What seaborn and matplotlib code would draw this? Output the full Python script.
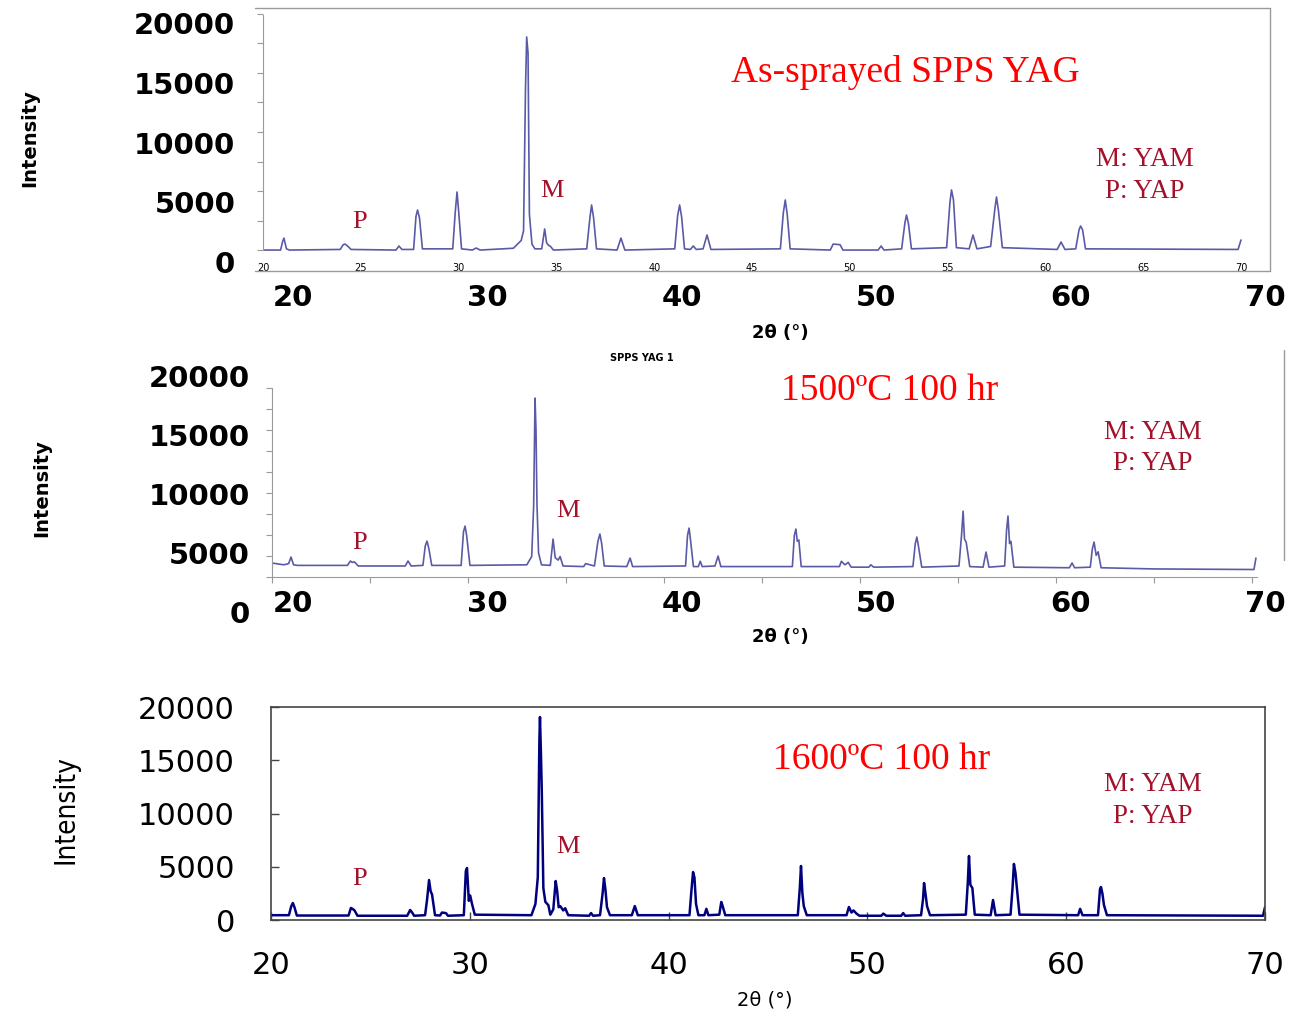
import numpy as np
import matplotlib.pyplot as plt
import seaborn as sns
from matplotlib.lines import Line2D

# ---- data (2theta in deg, intensity in counts) ----
sprayed_2theta = [20.0, 20.9, 21.0, 21.07, 21.2, 21.35,
                  23.95, 24.1, 24.2, 24.35, 24.5,
                  26.8, 26.95, 27.1,
                  27.7, 27.82, 27.9, 28.0, 28.15,
                  29.7, 29.83, 29.92, 30.0, 30.15,
                  30.7, 30.9, 31.1,
                  32.8, 33.2, 33.32, 33.42, 33.48, 33.55, 33.62, 33.75, 33.9,
                  34.25, 34.4, 34.5, 34.6, 34.7, 34.85,
                  36.55, 36.72, 36.8, 36.9, 37.05,
                  38.1, 38.3, 38.5,
                  41.05, 41.2, 41.3, 41.4, 41.55,
                  41.85, 42.0, 42.15, 42.5, 42.7, 42.9,
                  46.45, 46.6, 46.7, 46.8, 46.95,
                  49.0, 49.15, 49.5, 49.65,
                  51.45, 51.6, 51.75,
                  52.65, 52.82, 52.9, 53.0, 53.15,
                  54.95, 55.12, 55.2, 55.3, 55.45,
                  56.1, 56.3, 56.5,
                  57.2, 57.42, 57.5, 57.6, 57.8,
                  60.6, 60.8, 61.0,
                  61.55, 61.72, 61.8, 61.9, 62.05,
                  69.85, 70.0]
sprayed_intensity = [1000, 1000, 1700, 2000, 1100, 1000,
                     1050, 1450, 1500, 1300, 1050,
                     1000, 1340, 1050,
                     1050, 3800, 4350, 3700, 1100,
                     1100, 4200, 5860, 4300, 1100,
                     1000, 1170, 1000,
                     1150, 1800, 2600, 14500, 18830, 17500, 4000, 1500, 1100,
                     1100, 2760, 1600, 1400, 1300, 1000,
                     1100, 3800, 4770, 3700, 1100,
                     1000, 2000, 1000,
                     1100, 3900, 4770, 3800, 1100,
                     1050, 1340, 1050, 1100, 2260, 1050,
                     1100, 4100, 5190, 4000, 1100,
                     1000, 1500, 1450, 1000,
                     1000, 1340, 1000,
                     1100, 3300, 3930, 3200, 1100,
                     1200, 5000, 6030, 5200, 1200,
                     1100, 2260, 1100,
                     1300, 4500, 5440, 4300, 1200,
                     1050, 1670, 1050,
                     1100, 2700, 3010, 2700, 1100,
                     1050, 1840]

hot1500_2theta = [20.0, 20.6, 20.85, 20.97, 21.1, 21.3,
                  23.85, 24.0, 24.1, 24.2, 24.4,
                  26.8, 26.94, 27.1,
                  27.7, 27.82, 27.91, 28.0, 28.15,
                  29.65, 29.77, 29.85, 29.93, 30.1,
                  33.0, 33.25, 33.35, 33.42, 33.47, 33.52, 33.6, 33.75,
                  34.2, 34.34, 34.45, 34.6, 34.7, 34.85,
                  35.9, 36.0, 36.45, 36.63, 36.73, 36.82, 36.95,
                  38.1, 38.27, 38.4,
                  41.1, 41.2, 41.28, 41.36, 41.5,
                  41.75, 41.85, 41.95, 42.6, 42.76, 42.9,
                  46.55, 46.65, 46.73, 46.8, 46.88, 47.0,
                  48.95, 49.05, 49.23, 49.4, 49.55,
                  50.45, 50.55, 50.7,
                  52.7, 52.82, 52.9, 52.98, 53.15,
                  55.05, 55.18, 55.26, 55.33, 55.42, 55.6,
                  56.28, 56.43, 56.58,
                  57.38, 57.48, 57.55, 57.63, 57.7, 57.85,
                  60.68, 60.82, 60.95,
                  61.75, 61.85, 61.94, 62.05, 62.15, 62.3,
                  65.0, 70.1, 70.2]
hot1500_intensity = [4150, 4000, 4100, 4660, 4000, 3950,
                     3950, 4320, 4200, 4250, 3900,
                     3900, 4320, 3900,
                     3950, 5600, 6010, 5400, 3950,
                     3950, 6800, 7280, 6500, 3950,
                     4000, 4700, 9000, 18130, 15400, 9060, 5000, 4000,
                     3950, 6180, 4600, 4400, 4700, 3900,
                     3850, 4100, 3900, 6000, 6610, 5800, 3900,
                     3850, 4570, 3850,
                     3900, 6500, 7110, 6000, 3850,
                     3850, 4300, 3850, 3900, 4740, 3850,
                     3850, 6500, 7030, 6000, 6100, 3850,
                     3850, 4300, 4000, 4200, 3800,
                     3800, 4000, 3800,
                     3850, 5800, 6350, 5600, 3800,
                     3900, 6500, 8550, 6200, 5900, 3850,
                     3800, 5080, 3800,
                     3900, 7000, 8130, 5800, 6000, 3800,
                     3750, 4150, 3750,
                     3800, 5300, 5930, 4800, 5100, 3750,
                     3650, 3600, 4570]

hot1600_2theta = [20.0, 20.9, 21.02, 21.1, 21.18, 21.3,
                  23.9, 24.02, 24.1, 24.2, 24.35,
                  26.85, 27.0, 27.1, 27.2,
                  27.75, 27.85, 27.95, 28.03, 28.1, 28.25,
                  28.5, 28.6, 28.8, 28.9,
                  29.7, 29.8, 29.86, 29.95, 30.02, 30.1, 30.25,
                  33.1, 33.3, 33.42, 33.5, 33.53, 33.58, 33.62, 33.7, 33.8, 33.95, 34.05,
                  34.2, 34.32, 34.39, 34.47, 34.55, 34.7, 34.8, 34.95,
                  36.0, 36.1, 36.2,
                  36.55, 36.68, 36.75, 36.82, 36.9, 37.05,
                  38.15, 38.3, 38.45,
                  41.05, 41.15, 41.23, 41.3, 41.38, 41.5,
                  41.8, 41.9, 42.0,
                  42.55, 42.65, 42.72, 42.85,
                  46.5, 46.6, 46.66, 46.73, 46.8, 46.95,
                  48.95, 49.07, 49.2, 49.3, 49.45, 49.6,
                  50.7, 50.8, 50.95,
                  51.7, 51.8, 51.9,
                  52.7, 52.8, 52.85, 52.92, 53.0, 53.15,
                  54.95, 55.05, 55.11, 55.18, 55.28, 55.4,
                  56.2, 56.32, 56.45,
                  57.2, 57.3, 57.37, 57.45, 57.52, 57.65,
                  60.6, 60.7, 60.82,
                  61.6, 61.7, 61.75, 61.82, 61.9, 62.05,
                  69.9, 70.0]
hot1600_intensity = [450, 450, 1300, 1600, 1200, 420,
                     420, 1130, 1050, 900, 400,
                     400, 940, 700, 400,
                     450, 1900, 3750, 2700, 2400, 450,
                     420, 700, 650, 400,
                     450, 4600, 4880, 1800, 2300, 1600, 500,
                     450, 1500, 4000, 16900, 19060, 15500, 12200, 3000, 1700, 1400, 500,
                     1000, 3660, 2800, 1200, 1300, 900, 1100, 450,
                     400, 650, 400,
                     450, 2500, 3940, 2900, 1200, 450,
                     450, 1310, 450,
                     450, 2800, 4500, 4000, 1500, 450,
                     450, 1050, 450,
                     500, 1690, 1300, 450,
                     450, 3000, 5070, 2500, 1300, 450,
                     450, 1220, 700, 900, 600, 400,
                     400, 600, 400,
                     400, 650, 400,
                     450, 2000, 3470, 2500, 1300, 450,
                     500, 3500, 6010, 3300, 3000, 500,
                     450, 1880, 450,
                     500, 3000, 5260, 4400, 3000, 500,
                     450, 1050, 450,
                     450, 2900, 3100, 2500, 1400, 450,
                     400, 1200]

panel_titles = ["As-sprayed SPPS YAG", "1500ºC 100 hr", "1600ºC 100 hr"]
y_ticks = [0, 5000, 10000, 15000, 20000]
big_x_ticks = [20, 30, 40, 50, 60, 70]

sns.set_style("white")
plt.rcParams["font.family"] = ["DejaVu Sans"]
plt.rcParams["text.color"] = "black"
plt.rcParams["axes.labelcolor"] = "black"
plt.rcParams["xtick.color"] = "black"
plt.rcParams["ytick.color"] = "black"

W, H = 1291, 1013
fig = plt.figure(figsize=(W / 100, H / 100), dpi=100)


def px_axes(left, right, top, bottom):
    return fig.add_axes([left / W, 1 - bottom / H, (right - left) / W, (bottom - top) / H])


def fx(x):
    return x / W


def fy(y):
    return 1 - y / H


def label_scale(data_px0, data_ppd, lab_px0, lab_ppd):
    # the big tick labels of the pasted panels sit on a slightly shifted scale
    fwd = lambda x: 20 + ((np.asarray(x) - 20) * data_ppd + data_px0 - lab_px0) / lab_ppd
    inv = lambda o: 20 + ((np.asarray(o) - 20) * lab_ppd + lab_px0 - data_px0) / data_ppd
    return fwd, inv


trace_col = "#5a5aa6"
red_dark = "#a3112b"
serif = ["Liberation Serif", "DejaVu Serif"]
frame_col = "#9a9a9a"

# ================= panel 1 : as-sprayed =================
ppv1 = 239 / 20000  # pixels per count
ppd1 = 978 / 50     # pixels per degree
ax1 = px_axes(263, 1272, 262 - 20800 * ppv1, 262)
sns.lineplot(x=sprayed_2theta, y=sprayed_intensity, ax=ax1, color=trace_col,
             lw=1.2, sort=False, estimator=None)
ax1.set_xlim(20, 20 + (1272 - 263) / ppd1)
ax1.set_ylim(0, 20800)
ax1.set_yticks(y_ticks)
ax1.set_yticks(np.arange(1000, 20800, 2470), minor=True)
ax1.tick_params(axis="y", which="major", length=0, pad=20, labelsize=21)
ax1.tick_params(axis="y", which="minor", left=True, length=4, width=0.8, color=frame_col)
for lab in ax1.get_yticklabels():
    lab.set_fontweight("bold")
ax1.set_xticks(range(20, 71, 5))
ax1.tick_params(axis="x", length=0, pad=1, labelsize=7)
for s in ["top", "right", "bottom"]:
    ax1.spines[s].set_visible(False)
ax1.spines["left"].set_color(frame_col)
ax1.spines["left"].set_bounds(1000, 20700)
f1, g1 = label_scale(263, ppd1, 293, 972 / 50)
sec1 = ax1.secondary_xaxis(-0.0885, functions=(f1, g1))
sec1.set_xticks(big_x_ticks)
sec1.tick_params(length=0, pad=0, labelsize=21)
for lab in sec1.get_xticklabels():
    lab.set_fontweight("bold")
for s in sec1.spines.values():
    s.set_visible(False)
ax1.set_xlabel("2θ (°)", fontsize=13, fontweight="bold")
ax1.xaxis.set_label_coords((780 - 263) / (1272 - 263), (262 - 333) / (20800 * ppv1))
ax1.xaxis.label.set_va("center")
ax1.set_ylabel("Intensity", fontsize=14, fontweight="bold")
ax1.yaxis.set_label_coords((30 - 263) / (1272 - 263), 0.5)
ax1.yaxis.label.set_va("center")
for xs, ys in [([255, 1270], [8, 8]), ([1270, 1270], [8, 271]), ([255, 1270], [271, 271])]:
    fig.add_artist(Line2D([fx(v) for v in xs], [fy(v) for v in ys], color=frame_col, lw=1))

# ================= panel 2 : 1500 C =================
ppd2 = 19.6
ax2 = px_axes(272, 1280, 376, 612)
sns.lineplot(x=hot1500_2theta, y=hot1500_intensity, ax=ax2, color=trace_col,
             lw=1.2, sort=False, estimator=None)
ax2.set_xlim(20, 20 + (1280 - 272) / ppd2)
ax2.set_ylim(0, 20000)
ax2.set_yticks(y_ticks)
ax2.set_yticks(np.arange(2965, 19000, 1780), minor=True)
ax2.tick_params(axis="y", which="major", length=0, pad=16, labelsize=21)
ax2.tick_params(axis="y", which="minor", left=True, length=4, width=0.8, color=frame_col)
for lab in ax2.get_yticklabels():
    lab.set_fontweight("bold")
ax2.set_xticks(range(20, 71, 5))
ax2.tick_params(axis="x", bottom=True, direction="out", length=4, width=0.8,
                color=frame_col, labelbottom=False)
for s in ["top", "right"]:
    ax2.spines[s].set_visible(False)
ax2.spines["left"].set_color(frame_col)
ax2.spines["left"].set_bounds(2965, 18970)
ax2.spines["bottom"].set_color(frame_col)
ax2.spines["bottom"].set_position(("data", 2965))
ax2.spines["bottom"].set_bounds(20, 70.25)
f2, g2 = label_scale(272, ppd2, 293, 972 / 50)
sec2 = ax2.secondary_xaxis((612 - 590) / 236, functions=(f2, g2))
sec2.set_xticks(big_x_ticks)
sec2.tick_params(length=0, pad=0, labelsize=21)
for lab in sec2.get_xticklabels():
    lab.set_fontweight("bold")
for s in sec2.spines.values():
    s.set_visible(False)
ax2.set_xlabel("2θ (°)", fontsize=13, fontweight="bold")
ax2.xaxis.set_label_coords((780 - 272) / (1280 - 272), (612 - 637) / 236)
ax2.xaxis.label.set_va("center")
ax2.set_ylabel("Intensity", fontsize=14, fontweight="bold")
ax2.yaxis.set_label_coords((42 - 272) / (1280 - 272), (612 - 488) / 236)
ax2.yaxis.label.set_va("center")
fig.text(fx(610), fy(358), "SPPS YAG 1", fontsize=7, fontweight="bold", va="center")
fig.add_artist(Line2D([fx(1284), fx(1284)], [fy(350), fy(560)], color=frame_col, lw=1))

# ================= panel 3 : 1600 C =================
ax3 = px_axes(271, 1265, 707, 920)
sns.lineplot(x=hot1600_2theta, y=hot1600_intensity, ax=ax3, color="#00007f",
             lw=1.8, sort=False, estimator=None)
ax3.set_xlim(20, 70)
ax3.set_ylim(0, 20000)
ax3.set_yticks(y_ticks)
ax3.set_xticks(big_x_ticks)
ax3.tick_params(axis="both", direction="in", length=6, width=1, color="#444444",
                left=True, bottom=True, labelsize=22)
ax3.tick_params(axis="y", pad=26)
ax3.tick_params(axis="x", pad=22)
for s in ax3.spines.values():
    s.set_color("#444444")
    s.set_linewidth(1.2)
ax3.set_xlabel("2θ (°)", fontsize=14)
ax3.xaxis.set_label_coords((765 - 271) / 994, (920 - 1000) / 213)
ax3.xaxis.label.set_va("center")
ax3.set_ylabel("Intensity", fontsize=20,
               family=["Liberation Sans Narrow", "DejaVu Sans"], stretch="condensed")
ax3.yaxis.set_label_coords((65 - 271) / 994, (920 - 810) / 213)
ax3.yaxis.label.set_va("center")

# ---- annotations ----
title_pos = [(905, 72), (890, 391), (882, 760)]
legend_pos = [(1145, 160, 191), (1153, 432, 463), (1153, 784, 816)]
p_pos = [(360, 222), (360, 543), (360, 879)]
m_pos = [(552, 191), (568, 511), (568, 847)]
for i in range(3):
    fig.text(fx(title_pos[i][0]), fy(title_pos[i][1]), panel_titles[i], color="#ff0000",
             fontsize=27, family=serif, ha="center", va="center")
    lx, ly1, ly2 = legend_pos[i]
    fig.text(fx(lx), fy(ly1), "M: YAM", color=red_dark, fontsize=19.5, family=serif,
             ha="center", va="center")
    fig.text(fx(lx), fy(ly2), "P: YAP", color=red_dark, fontsize=19.5, family=serif,
             ha="center", va="center")
    fig.text(fx(p_pos[i][0]), fy(p_pos[i][1]), "P", color=red_dark, fontsize=19,
             family=serif, ha="center", va="center")
    fig.text(fx(m_pos[i][0]), fy(m_pos[i][1]), "M", color=red_dark, fontsize=19,
             family=serif, ha="center", va="center")

fig.savefig("out.png", dpi=100)
